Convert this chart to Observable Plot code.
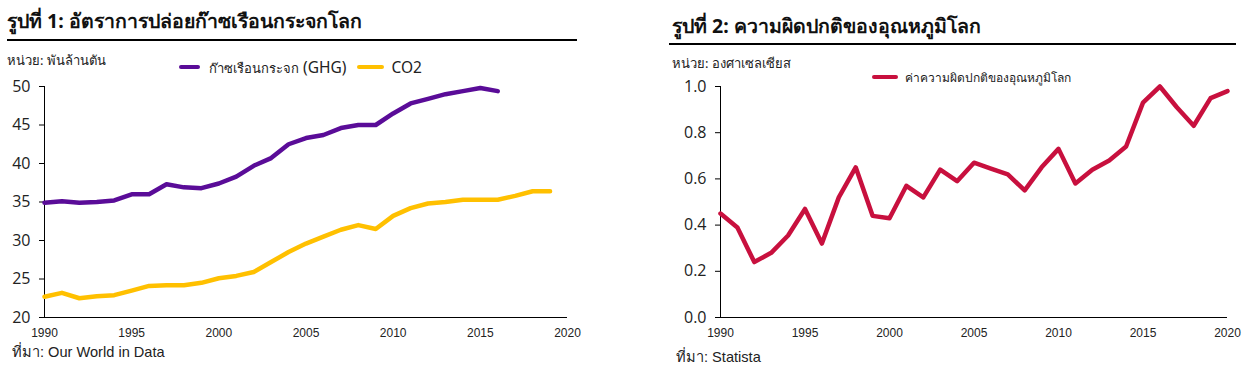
<!DOCTYPE html>
<html>
<head>
<meta charset="utf-8">
<script src="https://cdn.jsdelivr.net/npm/d3@7"></script>
<script src="https://cdn.jsdelivr.net/npm/@observablehq/plot@0.6"></script>
<style>
  html, body { margin: 0; padding: 0; background: #fff; }
  #root { position: relative; width: 1243px; height: 371px; overflow: hidden; font-family: "Noto Sans", "Open Sans", sans-serif; color: #111; }
  .abs { position: absolute; white-space: nowrap; }
  .title { font-weight: bold; font-size: 19.5px; line-height: 24px; color: #111; }
  .rule { background: #000; height: 2px; }
  .unit { font-size: 13px; line-height: 16px; color: #222; }
  .leg { display: flex; align-items: center; color: #222; }
  .sw { display: inline-block; height: 4px; border-radius: 2px; }
  .cap { font-family: "Liberation Sans", Arial, sans-serif; font-size: 14.6px; line-height: 16px; color: #222; }
  svg.plot-svg { position: absolute; top: 0; }
</style>
</head>
<body>
<div id="root">
  <div class="abs title" style="left:7px; top:9px;">รูปที่ 1: อัตราการปล่อยก๊าซเรือนกระจกโลก</div>
  <div class="abs rule" style="left:7px; top:39px; width:570px;"></div>
  <div class="abs unit" style="left:7px; top:52px;">หน่วย: พันล้านตัน</div>
  <div class="abs leg" id="leg1" style="left:179px; top:57px; height:20px;"></div>

  <div class="abs title" style="left:672px; top:14px;">รูปที่ 2: ความผิดปกติของอุณหภูมิโลก</div>
  <div class="abs rule" style="left:669px; top:43px; width:567px;"></div>
  <div class="abs unit" style="left:672px; top:55px;">หน่วย: องศาเซลเซียส</div>
  <div class="abs leg" id="leg2" style="left:872px; top:68px; height:18px;"></div>

  <div class="abs cap" style="left:12px; top:344px;">ที่มา: Our World in Data</div>
  <div class="abs cap" style="left:676px; top:349px;">ที่มา: Statista</div>
</div>
<script>
// ---------- Data ----------
const ghgYears = [1990,1991,1992,1993,1994,1995,1996,1997,1998,1999,2000,2001,2002,2003,2004,2005,2006,2007,2008,2009,2010,2011,2012,2013,2014,2015,2016];
const ghgValues = [34.9,35.1,34.9,35.0,35.2,36.0,36.0,37.3,36.9,36.8,37.4,38.3,39.7,40.7,42.5,43.3,43.7,44.6,45.0,45.0,46.5,47.8,48.4,49.0,49.4,49.8,49.4];

const co2Years = [1990,1991,1992,1993,1994,1995,1996,1997,1998,1999,2000,2001,2002,2003,2004,2005,2006,2007,2008,2009,2010,2011,2012,2013,2014,2015,2016,2017,2018,2019];
const co2Values = [22.7,23.2,22.5,22.75,22.9,23.5,24.1,24.2,24.2,24.5,25.1,25.4,25.9,27.2,28.5,29.6,30.5,31.4,32.0,31.5,33.2,34.2,34.8,35.0,35.3,35.3,35.3,35.8,36.4,36.4];

const tempYears = [1990,1991,1992,1993,1994,1995,1996,1997,1998,1999,2000,2001,2002,2003,2004,2005,2006,2007,2008,2009,2010,2011,2012,2013,2014,2015,2016,2017,2018,2019,2020];
const tempValues = [0.45,0.39,0.24,0.28,0.355,0.47,0.32,0.52,0.65,0.44,0.43,0.57,0.52,0.64,0.59,0.67,0.645,0.62,0.55,0.65,0.73,0.58,0.64,0.68,0.74,0.93,1.00,0.91,0.83,0.95,0.98];

const xTicks = [1990,1995,2000,2005,2010,2015,2020];
const y1Ticks = [20,25,30,35,40,45,50];
const y2Ticks = [0,0.2,0.4,0.6,0.8,1.0];

const ghgLabel = "ก๊าซเรือนกระจก (GHG)";
const co2Label = "CO2";
const tempLabel = "ค่าความผิดปกติของอุณหภูมิโลก";

const colGHG = "#5a0c98";
const colCO2 = "#ffc000";
const colTemp = "#c8103e";

// ---------- Build tables ----------
const ghg = ghgYears.map((y, i) => ({year: y, value: ghgValues[i]}));
const co2 = co2Years.map((y, i) => ({year: y, value: co2Values[i]}));
const temp = tempYears.map((y, i) => ({year: y, value: tempValues[i]}));

const root = document.getElementById("root");

function axisMarks(x0, y0, yTicks, yFmt) {
  return [
    Plot.axisX(xTicks, {label: null, tickSize: 0, tickPadding: 11, tickFormat: d => String(d), fontSize: 12, fontFamily: "Liberation Sans, Arial, sans-serif", fill: "#222"}),
    Plot.axisY(yTicks, {label: null, tickSize: 5, tickPadding: 9, tickFormat: yFmt, fontSize: 16, fontFamily: "Open Sans, Noto Sans, sans-serif", fill: "#222", stroke: "#000"}),
    Plot.ruleY([y0], {stroke: "#000", strokeWidth: 1}),
    Plot.ruleX([x0], {stroke: "#000", strokeWidth: 1})
  ];
}

const p1 = Plot.plot({
  width: 600, height: 371,
  marginLeft: 44, marginRight: 33, marginTop: 86, marginBottom: 54,
  style: {background: "none", overflow: "visible"},
  x: {domain: [1990, 2020], label: null},
  y: {domain: [20, 50], label: null},
  marks: [
    ...axisMarks(1990, 20, y1Ticks, d => String(d)),
    Plot.line(co2, {x: "year", y: "value", stroke: colCO2, strokeWidth: 4.5, strokeLinejoin: "round"}),
    Plot.line(ghg, {x: "year", y: "value", stroke: colGHG, strokeWidth: 4.5, strokeLinejoin: "round"})
  ]
});
p1.classList.add("plot-svg");
p1.style.left = "0px";
root.insertBefore(p1, root.firstChild);

const p2 = Plot.plot({
  width: 603, height: 371,
  marginLeft: 80, marginRight: 16, marginTop: 86, marginBottom: 54,
  style: {background: "none", overflow: "visible"},
  x: {domain: [1990, 2020], label: null},
  y: {domain: [0, 1], label: null},
  marks: [
    ...axisMarks(1990, 0, y2Ticks, d3.format(".1f")),
    Plot.line(temp, {x: "year", y: "value", stroke: colTemp, strokeWidth: 4.5, strokeLinejoin: "round"})
  ]
});
p2.classList.add("plot-svg");
p2.style.left = "640px";
root.insertBefore(p2, root.firstChild);

// ---------- Legends ----------
function labelHtml(label, fontSize) {
  // Thai part slightly smaller than the Latin part, as in the reference
  const m = label.match(/^(.*?)\s+(\(.*\))$/);
  if (m) return `<span style="font-size:${fontSize - 2.5}px">${m[1]}</span><span style="font-size:${fontSize}px;white-space:pre"> ${m[2]}</span>`;
  return `<span style="font-size:${fontSize}px">${label}</span>`;
}
function legendItem(color, label, swW, fontSize, gap, after) {
  return `<span class="sw" style="width:${swW}px;background:${color};margin-right:${gap}px"></span><span style="margin-right:${after}px;display:inline-flex;align-items:baseline">${labelHtml(label, fontSize)}</span>`;
}
document.getElementById("leg1").innerHTML =
  legendItem(colGHG, ghgLabel, 21, 15.5, 9, 11) + legendItem(colCO2, co2Label, 27, 15.5, 7, 0);
document.getElementById("leg2").innerHTML =
  legendItem(colTemp, tempLabel, 26, 12, 7, 0);
</script>
</body>
</html>
